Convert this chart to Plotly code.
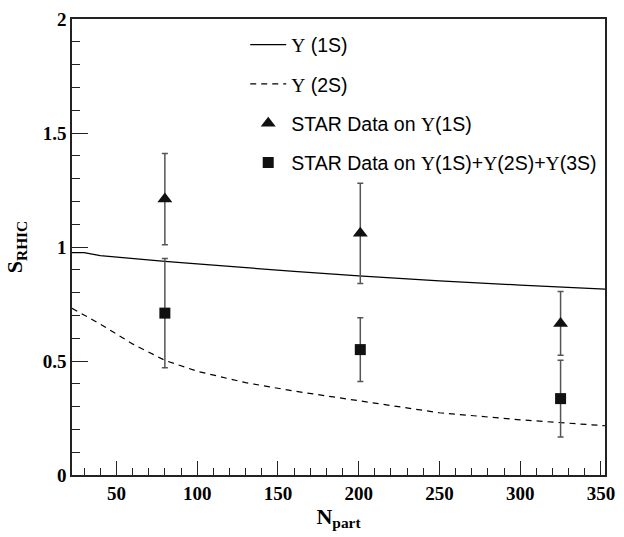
import plotly.graph_objects as go

# Model curves: suppression factor vs number of participants
npart_model = [22.5, 30, 40, 60, 80, 100, 130, 160, 200, 250, 300, 352.5]
s_1s_model = [0.975, 0.975, 0.962, 0.948, 0.937, 0.926, 0.908, 0.893, 0.873, 0.851, 0.833, 0.815]
s_2s_model = [0.731, 0.700, 0.662, 0.575, 0.503, 0.455, 0.405, 0.368, 0.326, 0.273, 0.242, 0.216]

# STAR measurements
npart_star = [80, 201, 325]
s_star_1s = [1.21, 1.06, 0.665]
err_star_1s = [0.20, 0.22, 0.14]
s_star_all = [0.71, 0.55, 0.335]
err_star_all = [0.24, 0.14, 0.168]

x_ticks = [50, 100, 150, 200, 250, 300, 350]
y_ticks = [0, 0.5, 1, 1.5, 2]
y_tick_text = ["0", "0.5", "1", "1.5", "2"]

UPS = '<span style="font-family:Liberation Serif">Υ</span>'
SANS = "Liberation Sans"
SERIF = "Liberation Serif"
TICK_FONT = dict(family=SERIF, size=19, color="black", weight="bold")
TITLE_FONT = dict(family=SERIF, size=22, color="black", weight="bold")

fig = go.Figure()

fig.add_trace(go.Scatter(
    x=npart_model, y=s_1s_model, mode="lines",
    line=dict(color="black", width=1.2),
    name=f"{UPS} (1S)", legendgroup="a",
))
fig.add_trace(go.Scatter(
    x=npart_model, y=s_2s_model, mode="lines",
    line=dict(color="black", width=1.2, dash="6px,5px"),
    name=f"{UPS} (2S)", legendgroup="b",
))
fig.add_trace(go.Scatter(
    x=npart_star, y=s_star_1s, mode="markers",
    marker=dict(symbol="triangle-up", size=13, color="#111111"),
    error_y=dict(type="data", array=err_star_1s, color="#555555", thickness=1.5, width=3),
    name=f"STAR Data on {UPS}(1S)", legendgroup="c",
))
fig.add_trace(go.Scatter(
    x=npart_star, y=s_star_all, mode="markers",
    marker=dict(symbol="square", size=11, color="#111111"),
    error_y=dict(type="data", array=err_star_all, color="#555555", thickness=1.5, width=3),
    name=f"STAR Data on {UPS}(1S)+{UPS}(2S)+{UPS}(3S)", legendgroup="d",
))

fig.update_xaxes(
    showline=True, linecolor="#222222", linewidth=1.5, mirror=True,
    ticks="inside", tickcolor="#222222", tickwidth=1.2, ticklen=14,
    showgrid=False, zeroline=False,
    range=[22.5, 352.5], tickvals=x_ticks,
    tickfont=TICK_FONT,
    minor=dict(dtick=10, tick0=0, ticklen=7, ticks="inside", tickcolor="#222222", showgrid=False),
    title=dict(text="N<sub>part</sub>", font=TITLE_FONT, standoff=2),
)
fig.update_yaxes(
    showline=True, linecolor="#222222", linewidth=1.5, mirror=True,
    ticks="inside", tickcolor="#222222", tickwidth=1.2, ticklen=16,
    showgrid=False, zeroline=False,
    range=[0, 2], tickvals=y_ticks, ticktext=y_tick_text,
    tickfont=TICK_FONT,
    minor=dict(dtick=0.1, tick0=0, ticklen=8, ticks="inside", tickcolor="#222222", showgrid=False),
    title=dict(text="S<sub>RHIC</sub>", font=TITLE_FONT, standoff=14),
)

fig.update_layout(
    width=624, height=537,
    margin=dict(l=72, r=9, t=14, b=62),
    paper_bgcolor="white", plot_bgcolor="white",
    showlegend=True,
    legend=dict(
        x=0.325, y=0.986, xanchor="left", yanchor="top",
        bgcolor="rgba(0,0,0,0)", borderwidth=0,
        font=dict(family=SANS, size=19.5, color="black"),
        traceorder="grouped", tracegroupgap=11, itemwidth=36,
    ),
)

fig.write_html("out.html")
